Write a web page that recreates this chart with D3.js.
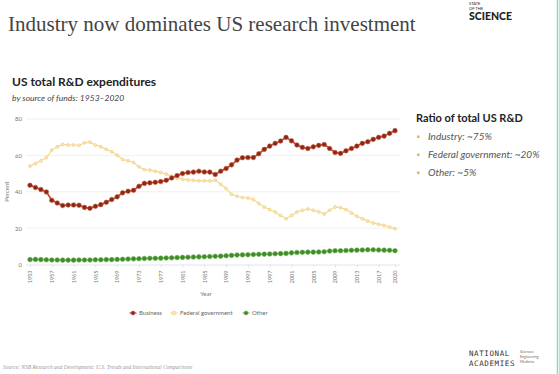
<!DOCTYPE html>
<html>
<head>
<meta charset="utf-8">
<script src="https://cdn.jsdelivr.net/npm/d3@7"></script>
<style>
  body { margin: 0; background: #fff; }
  svg { display: block; }
</style>
</head>
<body>
<svg width="559" height="374"></svg>
<script>
// データ
var years = d3.range(1953, 2021);
var business = [43.6, 42.3, 41.2, 39.9, 35.3, 33.8, 32.4, 32.7, 32.7, 32.6, 31.4, 30.9, 32.0, 32.9, 34.2, 35.7, 37.2,
  39.4, 40.3, 40.8, 43.0, 44.6, 44.9, 45.2, 45.6, 46.3, 47.6, 48.9, 50.0, 50.6, 50.8, 51.3, 50.9, 50.8, 49.5,
  51.3, 52.8, 54.8, 57.4, 58.7, 58.8, 58.8, 60.9, 63.3, 65.1, 66.6, 67.9, 69.9, 68.0, 65.7, 64.4, 63.8, 64.7,
  65.5, 66.0, 63.8, 61.6, 61.1, 62.5, 63.8, 65.1, 66.6, 67.5, 68.8, 69.9, 70.6, 72.1, 73.6];
var federal = [54.1, 55.5, 57.0, 58.7, 62.9, 64.7, 66.0, 65.7, 65.7, 65.5, 66.9, 67.3, 65.7, 64.7, 63.3, 62.0, 60.1,
  57.8, 57.0, 56.1, 53.7, 52.2, 51.9, 51.3, 50.6, 49.7, 48.6, 47.4, 46.9, 46.5, 46.3, 46.0, 46.0, 46.0, 46.3,
  44.1, 41.8, 38.6, 37.5, 36.8, 36.6, 35.7, 33.5, 31.6, 30.2, 28.9, 27.0, 25.2, 27.0, 28.9, 29.8, 30.5, 29.8,
  28.9, 27.8, 29.8, 31.6, 31.3, 30.2, 28.3, 26.5, 25.2, 23.9, 22.8, 22.1, 21.5, 20.6, 19.7];
var other = [2.7, 2.8, 2.7, 2.6, 2.5, 2.5, 2.4, 2.4, 2.4, 2.5, 2.5, 2.5, 2.6, 2.6, 2.7, 2.7, 2.8,
  2.9, 3.0, 3.1, 3.2, 3.3, 3.4, 3.4, 3.5, 3.6, 3.7, 3.8, 3.9, 4.0, 4.1, 4.2, 4.3, 4.4, 4.5,
  4.6, 4.8, 5.0, 5.2, 5.3, 5.4, 5.5, 5.6, 5.7, 5.8, 5.9, 6.0, 6.1, 6.4, 6.6, 6.7, 6.8, 6.8,
  6.9, 7.0, 7.4, 7.6, 7.6, 7.7, 7.8, 7.9, 8.0, 8.1, 8.1, 8.0, 7.9, 7.8, 7.6];
var yTicks = [0, 20, 40, 60, 80];
var xTickYears = [1953, 1957, 1961, 1965, 1969, 1973, 1977, 1981, 1985, 1989, 1993, 1997, 2001, 2005, 2009, 2013, 2017, 2020];
var seriesNames = ["Business", "Federal government", "Other"];
var ratioLines = ["Industry: ~75%", "Federal government: ~20%", "Other: ~5%"];

var svg = d3.select("svg");
var sans = "Lato, 'Open Sans', sans-serif";

// タイトル
svg.append("text")
  .attr("x", 8).attr("y", 31)
  .attr("font-family", "'Liberation Serif', serif")
  .attr("font-size", 21)
  .attr("fill", "#444")
  .text("Industry now dominates US research investment");

// ロゴ
var logo = svg.append("g").attr("font-family", sans).attr("fill", "#222");
logo.append("text").attr("x", 469).attr("y", 5).attr("font-size", 4).text("STATE");
logo.append("text").attr("x", 469).attr("y", 10).attr("font-size", 4).text("OF THE");
logo.append("text").attr("x", 469).attr("y", 20).attr("font-size", 10.5).attr("font-weight", 900).text("SCIENCE");

// 右端の線
svg.append("line")
  .attr("x1", 557.5).attr("x2", 557.5).attr("y1", 0).attr("y2", 374)
  .attr("stroke", "#8fd6c0").attr("stroke-width", 1.5);

// サブタイトル
svg.append("text")
  .attr("x", 12).attr("y", 86)
  .attr("font-family", sans).attr("font-weight", "bold")
  .attr("font-size", 12).attr("fill", "#222")
  .text("US total R&D expenditures");
svg.append("text")
  .attr("x", 12).attr("y", 101)
  .attr("font-family", sans).attr("font-style", "italic")
  .attr("font-size", 8.5).attr("fill", "#444")
  .text("by source of funds: 1953\u20132020");

// スケール
var x = d3.scaleLinear().domain([1953, 2020]).range([30, 395]);
var y = d3.scaleLinear().domain([0, 80]).range([264.5, 119]);

// グリッド
var g = svg.append("g");
g.selectAll(".grid")
  .data(yTicks.filter(function(d) { return d > 0; }))
  .enter().append("line")
  .attr("class", "grid")
  .attr("x1", 26).attr("x2", 400)
  .attr("y1", function(d) { return y(d); })
  .attr("y2", function(d) { return y(d); })
  .attr("stroke", "#eef0f3").attr("stroke-width", 1);

// y軸
var yAxis = g.append("g")
  .attr("transform", "translate(22,0)")
  .call(d3.axisLeft(y).tickValues(yTicks).tickSize(0).tickPadding(0));
yAxis.select(".domain").remove();
yAxis.selectAll("text")
  .attr("font-family", sans).attr("font-size", 6).attr("fill", "#777");

g.append("text")
  .attr("transform", "translate(9," + y(40) + ") rotate(-90)")
  .attr("text-anchor", "middle")
  .attr("font-family", sans).attr("font-size", 6).attr("fill", "#777")
  .text("Percent");

// x軸
var xAxis = g.append("g")
  .attr("transform", "translate(0," + y(0) + ")")
  .call(d3.axisBottom(x).tickValues(xTickYears).tickFormat(d3.format("d")).tickSize(3).tickSizeOuter(0));
xAxis.select(".domain").attr("stroke", "#dfe5ec").attr("d", "M26,0.5H400");
xAxis.selectAll(".tick line").attr("stroke", "#dfe5ec");
xAxis.selectAll("text")
  .attr("font-family", sans).attr("font-size", 5.5).attr("fill", "#777")
  .attr("transform", "rotate(-90)")
  .attr("text-anchor", "end")
  .attr("x", -6).attr("y", 0).attr("dy", "0.32em");

g.append("text")
  .attr("x", 206).attr("y", 296)
  .attr("text-anchor", "middle")
  .attr("font-family", sans).attr("font-size", 6).attr("fill", "#777")
  .text("Year");

// 系列
var series = [
  { name: seriesNames[0], values: business, line: "#b9452c", fill: "#8c2616", stroke: "#c65a3e", r: 2.3, w: 1.6 },
  { name: seriesNames[1], values: federal, line: "#f5d896", fill: "#fbe6b0", stroke: "#efca78", r: 1.5, w: 1.2 },
  { name: seriesNames[2], values: other, line: "#7cc35a", fill: "#3f8a2a", stroke: "#69b04a", r: 2.3, w: 1.6 }
];

var line = d3.line()
  .x(function(d, i) { return x(years[i]); })
  .y(function(d) { return y(d); });

series.slice().reverse().forEach(function(s) {
  var sg = g.append("g");
  sg.append("path")
    .datum(s.values)
    .attr("d", line)
    .attr("fill", "none")
    .attr("stroke", s.line)
    .attr("stroke-width", s.w);
  sg.selectAll("circle")
    .data(s.values)
    .enter().append("circle")
    .attr("cx", function(d, i) { return x(years[i]); })
    .attr("cy", function(d) { return y(d); })
    .attr("r", s.r)
    .attr("fill", s.fill)
    .attr("stroke", s.stroke)
    .attr("stroke-width", 0.6);
});

// 凡例
var legendX = [133, 174, 246];
var legend = svg.append("g");
series.forEach(function(s, i) {
  var lg = legend.append("g").attr("transform", "translate(" + legendX[i] + ",313)");
  lg.append("line").attr("x1", -3.5).attr("x2", 3.5).attr("stroke", s.line).attr("stroke-width", 1.2);
  lg.append("circle").attr("r", 2).attr("fill", s.fill).attr("stroke", s.stroke).attr("stroke-width", 0.5);
  lg.append("text")
    .attr("x", 6).attr("dy", "0.35em")
    .attr("font-family", sans).attr("font-size", 6).attr("fill", "#666")
    .text(s.name);
});

// 右側の説明
svg.append("text")
  .attr("x", 416).attr("y", 122)
  .attr("font-family", sans).attr("font-weight", "bold")
  .attr("font-size", 11).attr("fill", "#222")
  .text("Ratio of total US R&D");
var ratio = svg.append("g");
ratioLines.forEach(function(t, i) {
  var yy = 140 + i * 18;
  ratio.append("rect")
    .attr("x", 417).attr("y", yy - 4.5).attr("width", 2.5).attr("height", 2.5)
    .attr("fill", "#e8b83c");
  ratio.append("text")
    .attr("x", 428).attr("y", yy)
    .attr("font-family", sans).attr("font-style", "italic")
    .attr("font-size", 10).attr("fill", "#555")
    .text(t);
});

// 出典
svg.append("text")
  .attr("x", 3).attr("y", 369)
  .attr("font-family", "'Liberation Serif', serif").attr("font-style", "italic")
  .attr("font-size", 5.5).attr("fill", "#999")
  .text("Source: NSB Research and Development: U.S. Trends and International Comparisons");

// National Academies ロゴ
var na = svg.append("g").attr("font-family", "'DejaVu Sans Mono', monospace").attr("fill", "#333");
na.append("text").attr("x", 469).attr("y", 356).attr("font-size", 7.5).attr("letter-spacing", 0.6).text("NATIONAL");
na.append("text").attr("x", 469).attr("y", 366).attr("font-size", 7.5).attr("letter-spacing", 0.6).text("ACADEMIES");
var na2 = svg.append("g").attr("font-family", sans).attr("fill", "#666").attr("font-size", 3.6);
na2.append("text").attr("x", 520).attr("y", 353).text("Sciences");
na2.append("text").attr("x", 520).attr("y", 358).text("Engineering");
na2.append("text").attr("x", 520).attr("y", 363).text("Medicine");
</script>
</body>
</html>
